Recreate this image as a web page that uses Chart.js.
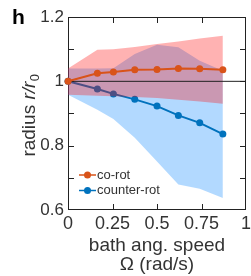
<!DOCTYPE html>
<html>
<head>
<meta charset="utf-8">
<script src="https://cdn.jsdelivr.net/npm/chart.js@4.4.0/dist/chart.umd.min.js"></script>
<style>
  html, body { margin: 0; padding: 0; background: #fff; }
  canvas { display: block; }
</style>
</head>
<body>
<canvas id="radiusChart" width="251" height="276"></canvas>
<script>
// bath angular speed (rad/s)
const omega = [0, 0.165, 0.255, 0.375, 0.5, 0.62, 0.74, 0.87];

// mean radius r/r0
const coRot = [1, 1.025, 1.029, 1.036, 1.037, 1.040, 1.039, 1.036];
const counterRot = [1, 0.976, 0.961, 0.944, 0.923, 0.894, 0.871, 0.836];

// shaded spread
const coRotUpper = [1.04, 1.098, 1.100, 1.107, 1.116, 1.124, 1.133, 1.142];
const coRotLower = [0.958, 0.955, 0.954, 0.951, 0.948, 0.943, 0.937, 0.930];
const counterRotUpper = [1.04, 1.04, 1.041, 1.085, 1.114, 1.106, 1.064, 1.033];
const counterRotLower = [0.958, 0.912, 0.883, 0.825, 0.751, 0.679, 0.666, 0.637];

// reference line r = r0
const refLineX = [0, 1];
const refLineY = [1, 1];

const xTickValues = [0, 0.25, 0.5, 0.75, 1];
const xTickLabels = ['0', '0.25', '0.5', '0.75', '1'];
const yTickValues = [0.6, 0.7, 0.8, 0.9, 1.0, 1.1, 1.2];
const yTickLabels = ['0.6', '', '0.8', '', '1', '', '1.2'];

const legendLabels = ['co-rot', 'counter-rot'];
const xTitle = ['bath ang. speed', 'Ω (rad/s)'];

const FONT = "'Liberation Sans', Arial, sans-serif";
const TEXT = '#333';
const ORANGE = '#D95319';
const BLUE = '#0072BD';
const legendColors = [ORANGE, BLUE];

function toPoints(xs, ys) {
  return xs.map((x, i) => ({ x: x, y: ys[i] }));
}

const framePlugin = {
  id: 'frame',
  beforeDatasetsDraw(chart) {
    const { ctx, chartArea } = chart;
    const { left, right, top, bottom } = chartArea;
    const xs = chart.scales.x, ys = chart.scales.y;
    ctx.save();
    ctx.strokeStyle = '#222';
    ctx.lineWidth = 1;
    ctx.strokeRect(left + 0.5, top + 0.5, right - left - 1, bottom - top - 1);
    ctx.beginPath();
    xTickValues.slice(1, -1).forEach(v => {
      const px = Math.round(xs.getPixelForValue(v)) + 0.5;
      ctx.moveTo(px, bottom); ctx.lineTo(px, bottom - 6);
      ctx.moveTo(px, top); ctx.lineTo(px, top + 6);
    });
    yTickValues.slice(1, -1).forEach(v => {
      const py = Math.round(ys.getPixelForValue(v)) + 0.5;
      ctx.moveTo(left, py); ctx.lineTo(left + 6, py);
      ctx.moveTo(right, py); ctx.lineTo(right - 6, py);
    });
    ctx.stroke();
    ctx.restore();
  },
  afterDraw(chart) {
    const { ctx, chartArea } = chart;
    ctx.save();
    // panel letter
    ctx.fillStyle = '#000';
    ctx.font = 'bold 21px ' + FONT;
    ctx.textBaseline = 'alphabetic';
    ctx.fillText('h', 12, 24);

    // y title: radius r/r0
    ctx.translate(35, (chartArea.top + chartArea.bottom) / 2 + 2);
    ctx.rotate(-Math.PI / 2);
    ctx.fillStyle = TEXT;
    const fReg = '19px ' + FONT, fIt = 'italic 19px ' + FONT, fSub = '13px ' + FONT;
    ctx.font = fReg; const w1 = ctx.measureText('radius ').width;
    ctx.font = fIt; const w2 = ctx.measureText('r/r').width;
    ctx.font = fSub; const w3 = ctx.measureText('0').width;
    let x0 = -(w1 + w2 + w3) / 2;
    ctx.font = fReg; ctx.fillText('radius ', x0, 0); x0 += w1;
    ctx.font = fIt; ctx.fillText('r/r', x0, 0); x0 += w2;
    ctx.font = fSub; ctx.fillText('0', x0 + 0.5, 4);
    ctx.restore();

    // legend inside the axes
    ctx.save();
    ctx.font = '13px ' + FONT;
    ctx.textBaseline = 'middle';
    legendLabels.forEach((label, i) => {
      const y = chartArea.bottom - 35 + i * 15.5;
      const x = chartArea.left + 11;
      ctx.strokeStyle = legendColors[i];
      ctx.fillStyle = legendColors[i];
      ctx.lineWidth = 1.5;
      ctx.beginPath(); ctx.moveTo(x, y); ctx.lineTo(x + 17, y); ctx.stroke();
      ctx.beginPath(); ctx.arc(x + 8.5, y, 3.5, 0, Math.PI * 2); ctx.fill();
      ctx.fillStyle = TEXT;
      ctx.fillText(label, x + 18, y);
    });
    ctx.restore();
  }
};

const bandBase = { borderWidth: 0, pointRadius: 0, tension: 0 };
const lineBase = { borderWidth: 2, pointRadius: 3.5, pointBorderWidth: 0, fill: false, clip: false, tension: 0 };

new Chart(document.getElementById('radiusChart').getContext('2d'), {
  type: 'line',
  data: {
    datasets: [
      { ...bandBase, label: 'counter-rot spread', data: toPoints(omega, counterRotUpper), fill: '+1', backgroundColor: 'rgba(0,128,255,0.3)', order: 6 },
      { ...bandBase, label: 'counter-rot low', data: toPoints(omega, counterRotLower), fill: false, order: 6 },
      { ...lineBase, label: 'counter-rot', data: toPoints(omega, counterRot), borderColor: BLUE, backgroundColor: BLUE, order: 5 },
      { ...bandBase, label: 'co-rot spread', data: toPoints(omega, coRotUpper), fill: '+1', backgroundColor: 'rgba(255,0,0,0.3)', order: 4 },
      { ...bandBase, label: 'co-rot low', data: toPoints(omega, coRotLower), fill: false, order: 4 },
      { label: 'r0', data: toPoints(refLineX, refLineY), borderColor: '#222', borderWidth: 1, pointRadius: 0, fill: false, order: 3 },
      { ...lineBase, label: 'co-rot', data: toPoints(omega, coRot), borderColor: ORANGE, backgroundColor: ORANGE, order: 2 }
    ]
  },
  options: {
    responsive: false,
    animation: false,
    events: [],
    layout: { padding: { top: 17, right: 5, left: 0, bottom: 0 } },
    plugins: { legend: { display: false }, tooltip: { enabled: false } },
    scales: {
      x: {
        type: 'linear', min: 0, max: 1,
        border: { display: false },
        grid: { display: false, drawTicks: false },
        afterBuildTicks(s) { s.ticks = xTickValues.map(v => ({ value: v })); },
        ticks: {
          padding: 3, autoSkip: false, maxRotation: 0, color: TEXT,
          font: { family: FONT, size: 18 },
          callback: (v, i) => xTickLabels[i]
        },
        title: { display: true, text: xTitle, color: TEXT, font: { family: FONT, size: 19, lineHeight: 1.0 }, padding: { top: 0, bottom: 2 } },
        afterFit(s) { s.height = 66; s.paddingLeft = 0; s.paddingRight = 0; }
      },
      y: {
        type: 'linear', min: 0.6, max: 1.2,
        border: { display: false },
        grid: { display: false, drawTicks: false },
        afterBuildTicks(s) { s.ticks = yTickValues.map(v => ({ value: v })); },
        ticks: {
          padding: 4, autoSkip: false, color: TEXT,
          font: { family: FONT, size: 17 },
          callback: (v, i) => yTickLabels[i]
        },
        afterFit(s) { s.width = 68; s.paddingTop = 0; s.paddingBottom = 0; }
      }
    }
  },
  plugins: [framePlugin]
});
</script>
</body>
</html>
